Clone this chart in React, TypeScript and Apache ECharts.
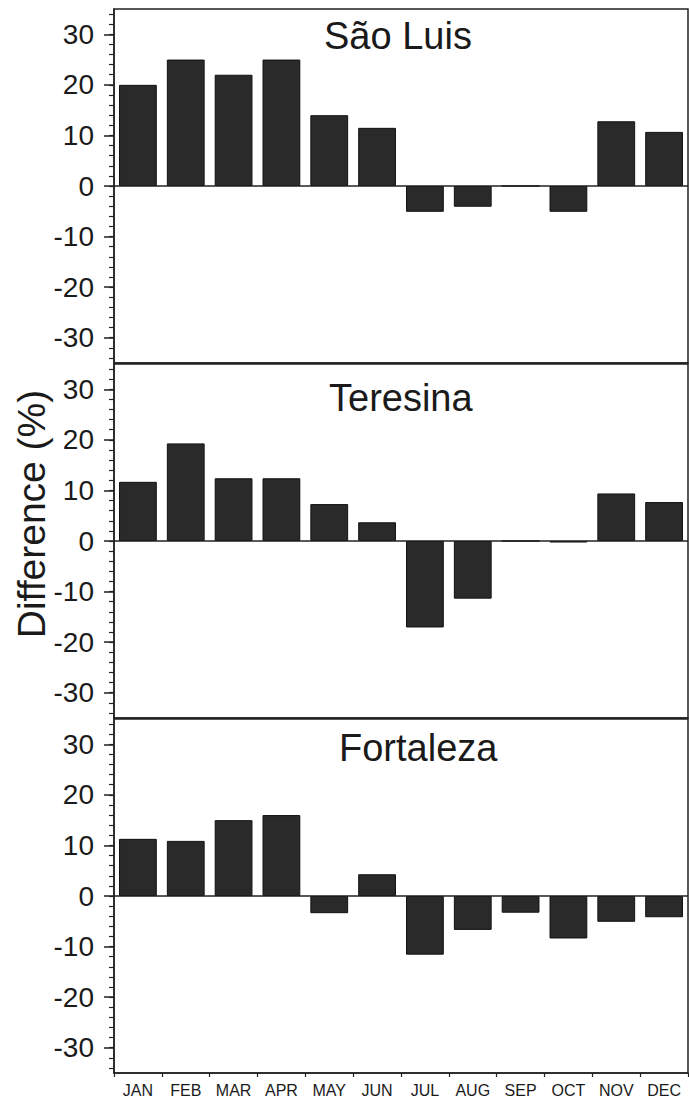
import React, { useEffect, useRef } from "react";
import * as echarts from "echarts";

const months = ["JAN", "FEB", "MAR", "APR", "MAY", "JUN", "JUL", "AUG", "SEP", "OCT", "NOV", "DEC"];
const cities = ["São Luis", "Teresina", "Fortaleza"];
const saoLuis = [20, 25, 22, 25, 14, 11.5, -5.1, -4.1, 0, -5.1, 12.8, 10.7];
const teresina = [11.7, 19.3, 12.4, 12.4, 7.3, 3.7, -17.1, -11.4, 0, -0.3, 9.4, 7.7];
const fortaleza = [11.3, 10.9, 15.0, 16.0, -3.4, 4.3, -11.6, -6.7, -3.3, -8.4, -5.1, -4.2];
const yMajorTicks = [-30, -20, -10, 0, 10, 20, 30];
const yMinorTicks = [-34, -32, -30, -28, -26, -24, -22, -20, -18, -16, -14, -12, -10, -8, -6, -4, -2, 0, 2, 4, 6, 8, 10, 12, 14, 16, 18, 20, 22, 24, 26, 28, 30, 32, 34];
const yTitle = "Difference (%)";

const seriesValues = [saoLuis, teresina, fortaleza];

export default function App() {
  const ref = useRef<HTMLDivElement>(null);
  useEffect(() => {
    document.body.style.margin = "0";
    const chart = echarts.init(ref.current!, undefined, { renderer: "svg" });
    const gridTops = [9, 364, 719];
    const gridH = 354;
    const font = "'Liberation Sans', Arial, sans-serif";
    const titlePos = [
      { x: 324, y: 36 },
      { x: 329, y: 398 },
      { x: 339, y: 748 },
    ];
    const grids = gridTops.map((t) => ({
      left: 114,
      right: 1,
      top: t,
      height: gridH,
      show: true,
      borderColor: "#222",
      borderWidth: 1.5,
      backgroundColor: "transparent",
    }));
    const xAxes = gridTops.map((_, i) => ({
      type: "category",
      gridIndex: i,
      data: months,
      boundaryGap: true,
      axisLine: { onZero: false, lineStyle: { color: "#222", width: 1.5 } },
      axisTick: { show: i === 2, length: 4, lineStyle: { color: "#222", width: 1.2 } },
      axisLabel: {
        show: i === 2,
        fontSize: 16,
        color: "#1a1a1a",
        fontFamily: font,
        margin: 9,
      },
      splitLine: { show: false },
    }));
    const yAxes: any[] = [];
    gridTops.forEach((_, i) => {
      yAxes.push({
        type: "value",
        gridIndex: i,
        min: -35,
        max: 35,
        position: "left",
        offset: 0,
        axisLine: { show: true, lineStyle: { color: "#222", width: 1.5 } },
        axisTick: { show: true, length: 10, customValues: yMajorTicks, lineStyle: { color: "#222", width: 1.5 } },
        axisLabel: { show: true, customValues: yMajorTicks, fontSize: 28, color: "#1a1a1a", fontFamily: font, margin: 20 },
        splitLine: { show: false },
      });
      yAxes.push({
        type: "value",
        gridIndex: i,
        min: -35,
        max: 35,
        position: "left",
        offset: 0,
        axisLine: { show: false },
        axisTick: { show: true, length: 5, customValues: yMinorTicks, lineStyle: { color: "#222", width: 1.2 } },
        axisLabel: { show: false },
        splitLine: { show: false },
      });
    });
    const series = seriesValues.map((vals, i) => ({
      type: "bar",
      name: cities[i],
      xAxisIndex: i,
      yAxisIndex: i * 2,
      data: vals,
      barWidth: "79%",
      itemStyle: { color: "#2a2a2a", borderColor: "#111", borderWidth: 1 },
      markLine: {
        silent: true,
        symbol: "none",
        label: { show: false },
        lineStyle: { color: "#222", width: 1.5, type: "solid" },
        data: [{ yAxis: 0 }],
      },
    }));
    const graphics: any[] = cities.map((c, i) => ({
      type: "text",
      x: titlePos[i].x,
      y: titlePos[i].y,
      style: {
        text: c,
        fontSize: 38,
        fontFamily: font,
        fill: "#1a1a1a",
        verticalAlign: "middle",
        align: "left",
      },
    }));
    graphics.push({
      type: "text",
      x: 31,
      y: 514,
      rotation: Math.PI / 2,
      style: {
        text: yTitle,
        fontSize: 39,
        fontFamily: font,
        fill: "#1a1a1a",
        verticalAlign: "middle",
        align: "center",
      },
    });
    chart.setOption({
      animation: false,
      backgroundColor: "#fff",
      grid: grids,
      xAxis: xAxes,
      yAxis: yAxes,
      series,
      graphic: graphics,
    });
    return () => chart.dispose();
  }, []);
  return <div ref={ref} style={{ width: 689, height: 1098 }} />;
}
